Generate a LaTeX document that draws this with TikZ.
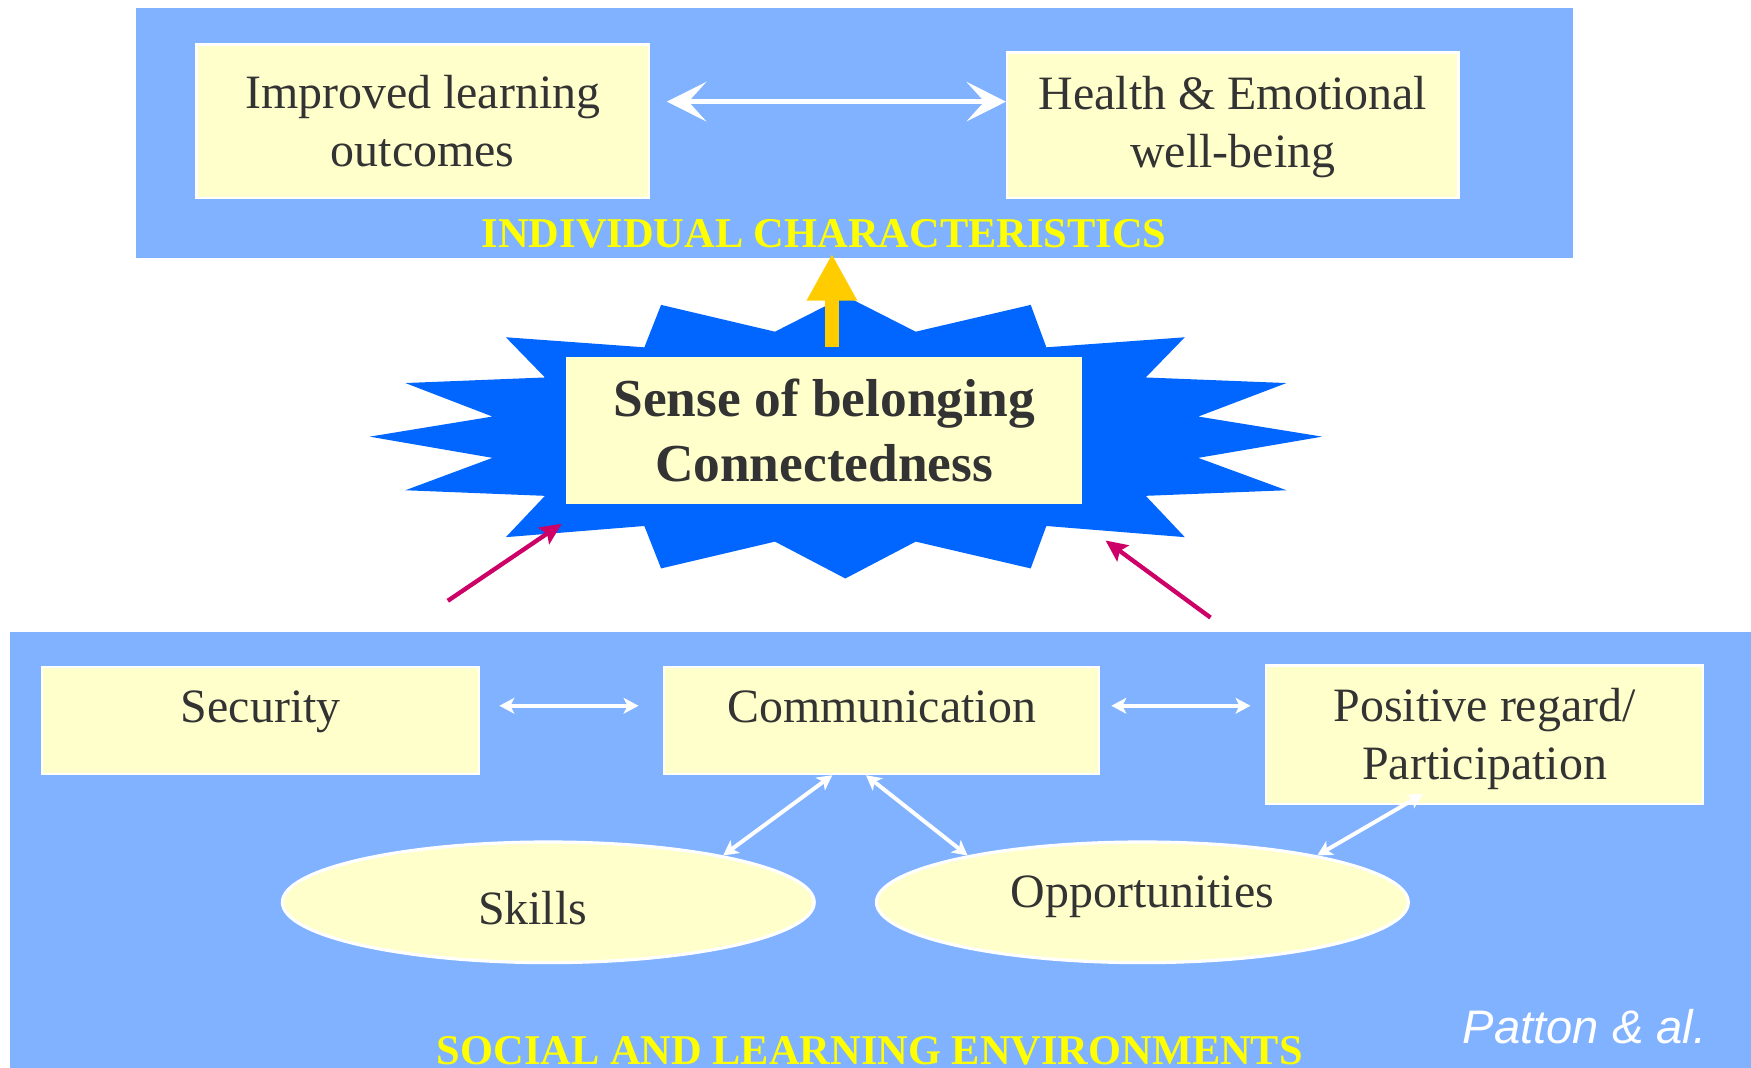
\documentclass[tikz,border=0pt]{standalone}
\usepackage{fontspec}
\setmainfont{Liberation Serif}
\setsansfont{Liberation Sans}
\usetikzlibrary{arrows.meta,shapes.geometric,calc}
\definecolor{panelblue}{RGB}{128,178,255}
\definecolor{starblue}{RGB}{0,102,255}
\definecolor{boxyellow}{RGB}{255,255,204}
\definecolor{labelyellow}{RGB}{255,255,0}
\definecolor{txtgray}{RGB}{51,51,51}
\definecolor{goldcol}{RGB}{255,204,0}
\definecolor{magentaarrow}{RGB}{204,0,102}
\begin{document}
\begin{tikzpicture}[x=0.01cm,y=-0.01cm,
  panel/.style={fill=panelblue,draw=none,inner sep=0pt},
  ybox/.style={fill=boxyellow,draw=white,line width=0.6pt,inner sep=0pt,text=txtgray,
    font=\fontsize{12.2}{14.8}\selectfont,align=center},
  yell/.style={ellipse,fill=boxyellow,draw=white,line width=0.8pt,inner sep=0pt,text=txtgray,
    font=\fontsize{12.2}{14.8}\selectfont},
  secttitle/.style={text=labelyellow,font=\bfseries\fontsize{10.8}{13}\selectfont,inner sep=0pt},
  wharr/.style={draw=white,line width=1.4pt,
    {Stealth[length=10pt,width=10pt,inset=4.5pt]}-{Stealth[length=10pt,width=10pt,inset=4.5pt]}},
  thinarr/.style={draw=white,line width=1pt,
    {Stealth[length=3.8pt,width=4pt,inset=1pt]}-{Stealth[length=3.8pt,width=4pt,inset=1pt]}},
  magarr/.style={draw=magentaarrow,line width=1.1pt,-{Stealth[length=5.5pt,width=5pt,inset=1pt]}},
  goldarr/.style={draw=goldcol,line width=3.65pt,-{Triangle[length=11.9pt,width=12pt]}}
]
\useasboundingbox (0,0) rectangle (1568,956);

% panels
\node[panel,minimum width=12.86cm,minimum height=2.24cm] (topbox) at (765,119) {};
\node[panel,minimum width=15.66cm,minimum height=3.94cm] (botbox) at (792,763) {};

% starburst
\fill[starblue] (757,265) -- (820,297) -- (923,273) -- (937,311) -- (1061,302) -- (1026,338)
  -- (1152,343) -- (1073,373) -- (1184,391) -- (1073,410) -- (1152,439) -- (1026,444)
  -- (1061,481) -- (937,471) -- (923,509) -- (820,485) -- (757,518) -- (694,485)
  -- (592,509) -- (577,471) -- (453,481) -- (488,444) -- (363,439) -- (441,410)
  -- (331,391) -- (441,373) -- (363,343) -- (488,338) -- (453,302) -- (577,311)
  -- (592,273) -- (694,297) -- cycle;

% top boxes
\node[ybox,minimum width=4.05cm,minimum height=1.37cm] (imp) at (378.5,108.5) {Improved learning\\outcomes};
\node[ybox,minimum width=4.04cm,minimum height=1.30cm] (health) at (1104,112) {\rule{0pt}{0.33cm}Health \& Emotional\\well-being};
\node[secttitle,anchor=base] (indiv) at (738,222) {INDIVIDUAL CHARACTERISTICS};

% central box
\node[ybox,draw=none,font=\bfseries\fontsize{13.6}{16.4}\selectfont,minimum width=4.62cm,minimum height=1.31cm] (cbox) at (738,385.5) {Sense of belonging\\Connectedness};

% bottom boxes
\node[ybox,minimum width=3.91cm,text height=0.50cm,text depth=0.46cm,anchor=north] (sec) at (233.5,596) {Security};
\node[ybox,minimum width=3.89cm,text height=0.50cm,text depth=0.46cm,anchor=north] (comm) at (789.5,596) {Communication};
\node[ybox,minimum width=3.91cm,minimum height=1.24cm] (pos) at (1329.5,658) {\rule{0pt}{0.37cm}Positive regard/\\Participation};
\node[yell,minimum width=4.76cm,minimum height=1.08cm,text height=0.40cm,text depth=0cm] (skills) at (491,808) {Skills\hspace*{0.28cm}};
\node[yell,minimum width=4.76cm,minimum height=1.08cm,text height=0.30cm,text depth=0.20cm] (opps) at (1023,808) {Opportunities};
\node[secttitle,anchor=base] (social) at (779,953) {SOCIAL AND LEARNING ENVIRONMENTS};
\node[anchor=base,text=white,inner sep=0pt,font=\sffamily\itshape\fontsize{12}{14}\selectfont] (cite) at (1419,934) {Patton \& al.};

% connectors
\draw[wharr,shorten <=0.15cm] (imp.east |- 0,91) -- (health.west |- 0,91);
\draw[goldarr] ($(cbox.north -| 745,0)+(0,-8.5)$) -- ($(topbox.south -| 745,0)+(0,-4.5)$);
\coordinate (mLs) at (401,538);
\coordinate (mLe) at (503,469);
\coordinate (mRs) at (1084,553);
\coordinate (mRe) at (990,484);
\draw[magarr] (mLs) -- (mLe);
\draw[magarr] (mRs) -- (mRe);
\draw[thinarr,shorten <=0.17cm,shorten >=0.22cm] (sec.east |- 0,632) -- (comm.west |- 0,632);
\draw[thinarr,shorten <=0.10cm,shorten >=0.13cm] (comm.east |- 0,632) -- (pos.west |- 0,632);
\draw[thinarr] (comm.228.3) -- (skills.15);
\draw[thinarr] (comm.254.9) -- (opps.165.5);
\draw[thinarr,shorten <=-0.2cm] (pos.221.7) -- (opps.15.5);
\end{tikzpicture}
\end{document}
